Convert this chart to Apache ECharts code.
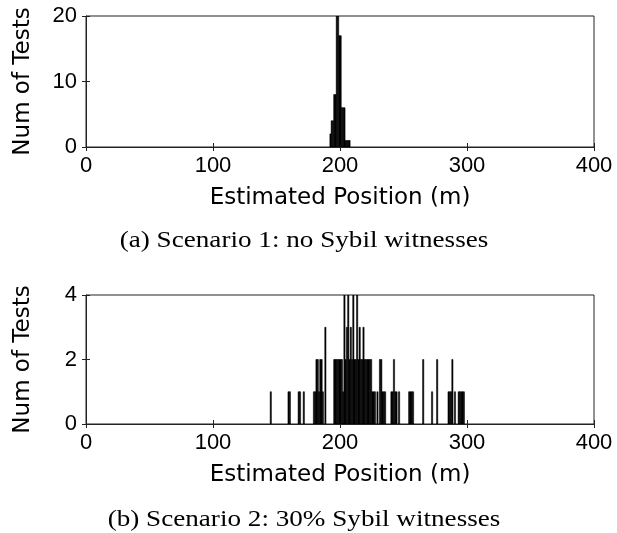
<!DOCTYPE html>
<html>
<head>
<meta charset="utf-8">
<script src="https://cdn.jsdelivr.net/npm/echarts@6/dist/echarts.min.js"></script>
<style>
  html, body { margin: 0; padding: 0; background: #fff; }
  #chart { width: 617px; height: 533px; }
</style>
</head>
<body>
<div id="chart"></div>
<script>
// histogram bins are 1 m wide, given by their left edge
const binWidth = 1;

// scenario 1: no Sybil witnesses
const edges1 = [192, 193, 194, 195, 196, 197, 198, 199, 200, 201, 202, 203, 204, 205, 206, 207];
const counts1 = [2, 4, 4, 8, 8, 20, 20, 17, 17, 6, 6, 6, 1, 1, 1, 1];

// scenario 2: 30% Sybil witnesses
const edges2 = [145, 159, 160, 167, 168, 171,
  179, 180, 181, 182, 183, 184, 185, 186, 188,
  195, 196, 197, 198, 199, 200, 201, 202, 203, 204, 205, 206, 207, 208, 209,
  210, 211, 212, 213, 214, 215, 216, 217, 218, 219, 220, 221, 222, 223, 224,
  225, 226, 227, 229, 231, 232, 233, 234, 235, 240, 241, 242, 243, 244, 246,
  254, 255, 256, 257, 265, 272, 276, 285, 286, 287, 288, 290,
  293, 294, 295, 296, 297];
const counts2 = [1, 1, 1, 1, 1, 1,
  1, 1, 2, 2, 1, 2, 2, 1, 3,
  2, 2, 2, 2, 2, 2, 2, 1, 4, 2, 3, 4, 2, 3, 2,
  4, 2, 2, 4, 2, 3, 2, 2, 3, 2, 2, 2, 2, 2, 2,
  1, 1, 1, 1, 2, 2, 1, 1, 1, 1, 1, 2, 1, 1, 1,
  1, 1, 1, 1, 2, 1, 2, 1, 1, 1, 2, 1,
  1, 1, 1, 1, 1];

const xMin = 0, xMax = 400, xStep = 100;
const yMax1 = 20, yStep1 = 10;
const yMax2 = 4, yStep2 = 2;

const captions = ['(a) Scenario 1: no Sybil witnesses', '(b) Scenario 2: 30% Sybil witnesses'];

const sans = 'Liberation Sans, Arial, sans-serif';
const wideSans = 'DejaVu Sans, sans-serif';
const serif = 'Liberation Serif, Times New Roman, serif';
const lineColor = '#222';

const chart = echarts.init(document.getElementById('chart'));

function renderBar(params, api) {
  const x = api.value(0);
  const c = api.value(1);
  const p0 = api.coord([x, 0]);
  const p1 = api.coord([x + binWidth, c]);
  return {
    type: 'rect',
    shape: { x: p0[0], y: p1[1], width: p1[0] - p0[0], height: p0[1] - p1[1] },
    style: { fill: '#000', stroke: '#000', lineWidth: 0.5 }
  };
}

function mainX(gridIndex) {
  return {
    type: 'value', gridIndex, min: xMin, max: xMax, interval: xStep,
    name: 'Estimated Position (m)', nameLocation: 'middle', nameGap: 40,
    nameTextStyle: { fontFamily: wideSans, fontSize: 23, color: '#000' },
    axisLine: { lineStyle: { color: lineColor } },
    axisTick: { inside: true, length: 4, lineStyle: { color: lineColor } },
    axisLabel: { margin: 8, fontFamily: sans, fontSize: 22, color: '#000' },
    splitLine: { show: false }
  };
}
function topX(gridIndex) {
  return {
    type: 'value', gridIndex, position: 'top', min: xMin, max: xMax, interval: xStep,
    axisLine: { show: false },
    axisTick: { inside: true, length: 4, lineStyle: { color: lineColor } },
    axisLabel: { show: false }, splitLine: { show: false }
  };
}
function mainY(gridIndex, max, step) {
  return {
    type: 'value', gridIndex, min: 0, max, interval: step,
    name: 'Num of Tests', nameLocation: 'middle', nameGap: 51,
    nameTextStyle: { fontFamily: wideSans, fontSize: 23, color: '#000' },
    axisLine: { show: true, lineStyle: { color: lineColor } },
    axisTick: { show: true, inside: true, length: 4, lineStyle: { color: lineColor } },
    axisLabel: { margin: 9, fontFamily: sans, fontSize: 22, color: '#000' },
    splitLine: { show: false }
  };
}
function rightY(gridIndex, max, step) {
  return {
    type: 'value', gridIndex, position: 'right', min: 0, max, interval: step,
    axisLine: { show: false },
    axisTick: { show: true, inside: true, length: 4, lineStyle: { color: lineColor } },
    axisLabel: { show: false }, splitLine: { show: false }
  };
}

function caption(text, y) {
  return {
    type: 'text', x: 304, y, scaleX: 1.18,
    style: { text, fontFamily: serif, fontSize: 23, fill: '#000', textAlign: 'center', textVerticalAlign: 'middle' }
  };
}

chart.setOption({
  animation: false,
  backgroundColor: '#fff',
  graphic: [caption(captions[0], 241), caption(captions[1], 520)],
  grid: [
    { left: 86, top: 16, width: 508, height: 131, show: true, borderColor: lineColor, borderWidth: 1, backgroundColor: 'transparent' },
    { left: 86, top: 295, width: 508, height: 129, show: true, borderColor: lineColor, borderWidth: 1, backgroundColor: 'transparent' }
  ],
  xAxis: [mainX(0), topX(0), mainX(1), topX(1)],
  yAxis: [mainY(0, yMax1, yStep1), rightY(0, yMax1, yStep1), mainY(1, yMax2, yStep2), rightY(1, yMax2, yStep2)],
  series: [
    {
      type: 'custom', xAxisIndex: 0, yAxisIndex: 0, renderItem: renderBar,
      encode: { x: 0, y: 1 }, clip: true,
      data: edges1.map((e, i) => [e, counts1[i]])
    },
    {
      type: 'custom', xAxisIndex: 2, yAxisIndex: 2, renderItem: renderBar,
      encode: { x: 0, y: 1 }, clip: true,
      data: edges2.map((e, i) => [e, counts2[i]])
    }
  ]
});
</script>
</body>
</html>
